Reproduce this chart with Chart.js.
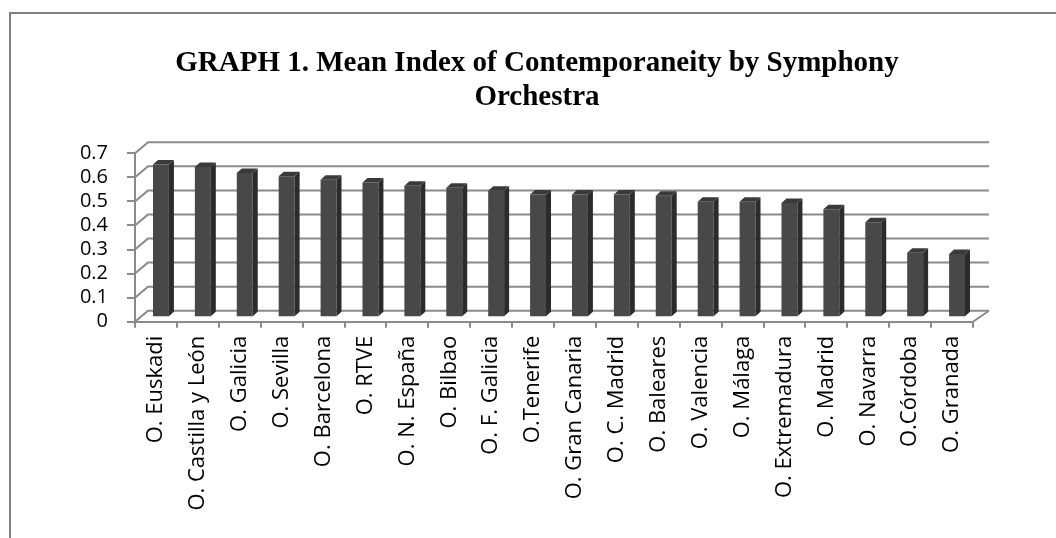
<!DOCTYPE html>
<html><head><meta charset="utf-8">
<script src="https://cdn.jsdelivr.net/npm/chart.js@4.4.1/dist/chart.umd.min.js"></script>
<style>html,body{margin:0;padding:0;background:#fff;overflow:hidden}#wrap{width:1056px;height:538px;position:relative}</style>
</head><body><div id="wrap"><canvas id="c" width="1056" height="538"></canvas></div>
<script>
const categories = ['O. Euskadi','O. Castilla y León','O. Galicia','O. Sevilla','O. Barcelona','O. RTVE','O. N. España','O. Bilbao','O. F. Galicia','O.Tenerife','O. Gran Canaria','O. C. Madrid','O. Baleares','O. Valencia','O. Málaga','O. Extremadura','O. Madrid','O. Navarra','O.Córdoba','O. Granada'];
const meanIndex = [0.635, 0.624, 0.599, 0.586, 0.571, 0.56, 0.546, 0.538, 0.526, 0.51, 0.51, 0.51, 0.505, 0.48, 0.48, 0.475, 0.449, 0.395, 0.268, 0.263];
const yTickLabels = ['0','0.1','0.2','0.3','0.4','0.5','0.6','0.7'];
const titleLines = ['GRAPH 1. Mean Index of Contemporaneity by Symphony', 'Orchestra'];

const GRID = '#8a8a8a';
const frame3d = {
  id: 'frame3d',
  beforeDraw(chart) {
    const ctx = chart.ctx;
    ctx.save();
    ctx.fillStyle = '#fff';
    ctx.fillRect(0, 0, chart.width, chart.height);
    ctx.strokeStyle = '#808080';
    ctx.lineWidth = 2;
    ctx.strokeRect(10, 13, chart.width + 20, chart.height + 20);
    ctx.restore();
  },
  beforeDatasetsDraw(chart) {
    const {ctx, chartArea: a, scales: {y}} = chart;
    ctx.save();
    ctx.strokeStyle = GRID;
    ctx.lineWidth = 2;
    y.ticks.forEach(t => {
      const py = y.getPixelForValue(t.value);
      ctx.beginPath();
      ctx.moveTo(a.left, py);
      ctx.lineTo(a.left + 13, py - 11);
      ctx.lineTo(a.right + 16, py - 11);
      ctx.stroke();
    });
    const y0 = y.getPixelForValue(0);
    ctx.beginPath();
    ctx.moveTo(a.right, y0);
    ctx.lineTo(a.right + 16, y0 - 11);
    ctx.stroke();
    ctx.restore();
    ctx.save();
    ctx.translate(5, -4.5);
  },
  afterDatasetsDraw(chart) {
    const ctx = chart.ctx;
    const meta = chart.getDatasetMeta(0);
    meta.data.forEach(bar => {
      const {x, y, base, width} = bar.getProps(['x', 'y', 'base', 'width'], true);
      const l = x - width / 2, r = x + width / 2;
      ctx.fillStyle = '#2b2b2b';
      ctx.beginPath();
      ctx.moveTo(r, y); ctx.lineTo(r + 5, y - 4.5); ctx.lineTo(r + 5, base - 4.5); ctx.lineTo(r, base);
      ctx.closePath(); ctx.fill();
      ctx.fillStyle = '#3a3a3a';
      ctx.beginPath();
      ctx.moveTo(l, y); ctx.lineTo(l + 5, y - 4.5); ctx.lineTo(r + 5, y - 4.5); ctx.lineTo(r, y);
      ctx.closePath(); ctx.fill();
    });
    ctx.restore();
  }
};

new Chart(document.getElementById('c'), {
  type: 'bar',
  data: {
    labels: categories,
    datasets: [{
      data: meanIndex,
      backgroundColor: '#484848',
      borderWidth: 0,
      barPercentage: 0.38,
      categoryPercentage: 1,
      clip: false
    }]
  },
  options: {
    responsive: false,
    animation: false,
    devicePixelRatio: 1,
    layout: {padding: {left: 18, right: 0, top: 0, bottom: 0}},
    plugins: {
      legend: {display: false},
      tooltip: {enabled: false},
      title: {
        display: true,
        text: titleLines,
        color: '#000',
        font: {family: 'Liberation Serif', size: 29, weight: 'bold', lineHeight: '34px'},
        padding: {top: 47, bottom: 38.3}
      }
    },
    scales: {
      x: {
        grid: {display: true, drawOnChartArea: false, drawTicks: true, tickLength: 6, color: GRID, lineWidth: 2},
        border: {display: true, color: GRID, width: 2},
        ticks: {color: '#000', font: {family: 'Open Sans', size: 22}, minRotation: 90, maxRotation: 90, padding: 8, autoSkip: false},
        afterFit: s => { s.height = 216.3; }
      },
      y: {
        min: 0, max: 0.7,
        grid: {display: true, drawOnChartArea: false, drawTicks: true, tickLength: 8, color: GRID, lineWidth: 2},
        border: {display: true, color: GRID, width: 2},
        ticks: {stepSize: 0.1, autoSkip: false, color: '#000', font: {family: 'Open Sans', size: 20}, padding: 19,
          callback: (v, i) => yTickLabels[i]},
        afterFit: s => { s.width = 117; }
      },
      yR: {
        type: 'linear', position: 'right', display: true,
        grid: {display: false}, border: {display: false}, ticks: {display: false},
        afterFit: s => { s.width = 83; }
      }
    }
  },
  plugins: [frame3d]
});
</script></body></html>
